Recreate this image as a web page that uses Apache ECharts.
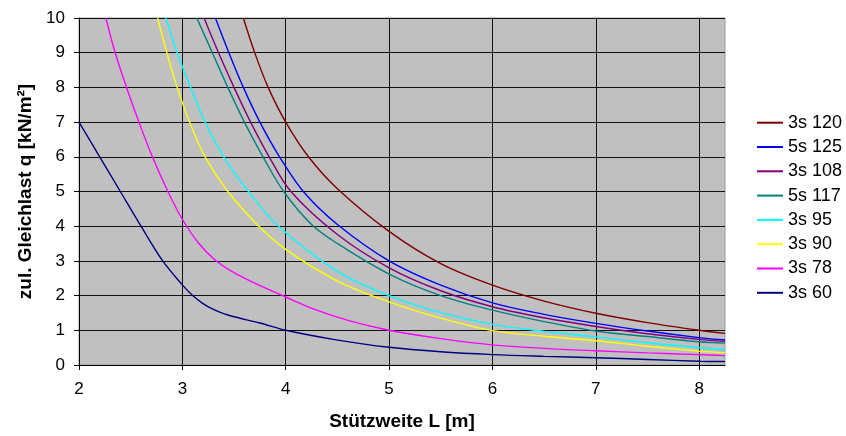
<!DOCTYPE html>
<html>
<head>
<meta charset="utf-8">
<script src="https://cdn.jsdelivr.net/npm/echarts@6/dist/echarts.min.js"></script>
<style>
html,body{margin:0;padding:0;background:#fff;}
#chart{width:846px;height:436px;}
</style>
</head>
<body>
<div id="chart"></div>
<script>
// Series names (legend order)
const seriesNames = ['3s 120', '5s 125', '3s 108', '5s 117', '3s 95', '3s 90', '3s 78', '3s 60'];
const seriesColors = ['#800000', '#0000FF', '#800080', '#008080', '#00FFFF', '#FFFF00', '#FF00FF', '#000080'];

// [Stützweite L (m), zul. Gleichlast q (kN/m²)]
const s3_120 = [[3.59,10],[3.70,9],[3.83,8],[4.0,7],[4.22,6],[4.5,5.08],[5,3.85],[5.5,2.92],[6,2.30],[6.5,1.84],[7,1.49],[7.5,1.22],[8,1.0],[8.25,0.91]];
const s5_125 = [[3.32,10],[3.45,9],[3.59,8],[3.75,7],[3.94,6],[4.17,5],[4.5,4.05],[5,3.0],[5.5,2.3],[6,1.79],[6.5,1.46],[7,1.20],[7.5,0.98],[8,0.79],[8.25,0.72]];
const s3_108 = [[3.21,10],[3.35,9],[3.50,8],[3.66,7],[3.84,6],[4.05,5],[4.5,3.76],[5,2.80],[5.5,2.14],[6,1.68],[6.5,1.36],[7,1.11],[7.5,0.90],[8,0.74],[8.25,0.68]];
const s5_117 = [[3.14,10],[3.29,9],[3.44,8],[3.60,7],[3.78,6],[3.98,5],[4.25,4.05],[4.5,3.5],[5,2.62],[5.5,2.0],[6,1.58],[6.5,1.25],[7,0.98],[7.5,0.82],[8,0.67],[8.25,0.63]];
const s3_95 = [[2.84,10],[2.95,9],[3.08,8],[3.22,7],[3.40,6],[3.64,5],[3.93,4],[4.5,2.70],[5,2.0],[5.5,1.51],[6,1.17],[6.5,0.97],[7,0.81],[7.5,0.64],[8,0.50],[8.25,0.44]];
const s3_90 = [[2.76,10],[2.85,9],[2.95,8],[3.07,7],[3.22,6],[3.44,5],[3.74,4],[4.0,3.33],[4.5,2.42],[5,1.82],[5.5,1.35],[6,0.99],[6.5,0.83],[7,0.70],[7.5,0.54],[8,0.40],[8.25,0.35]];
const s3_78 = [[2.26,10],[2.35,9],[2.46,8],[2.58,7],[2.71,6],[2.86,5],[3.0,4.2],[3.16,3.5],[3.32,3.02],[3.5,2.66],[3.7,2.36],[4.0,1.96],[4.3,1.58],[4.62,1.27],[5,1.0],[5.5,0.76],[6,0.58],[6.5,0.48],[7,0.41],[7.5,0.35],[8,0.30],[8.25,0.27]];
const s3_60 = [[2.0,7.0],[2.2,6],[2.4,5],[2.6,4],[2.81,3],[3.0,2.31],[3.1,2.0],[3.2,1.77],[3.3,1.6],[3.4,1.48],[3.5,1.39],[3.75,1.21],[4,1.0],[4.46,0.74],[5,0.51],[5.5,0.38],[6,0.30],[6.5,0.25],[7,0.21],[7.5,0.16],[8,0.11],[8.25,0.10]];

const seriesData = [s3_120, s5_125, s3_108, s5_117, s3_95, s3_90, s3_78, s3_60];

// Tick values
const xTicks = [2, 3, 4, 5, 6, 7, 8];
const xMin = 2, xMax = 8.25;
const yMin = 0, yMax = 10;

const xTitle = 'Stützweite L [m]';
const yTitle = 'zul. Gleichlast q [kN/m²]';

const FONT = '"Liberation Sans", Arial, sans-serif';

const chart = echarts.init(document.getElementById('chart'), null, {renderer: 'canvas'});
chart.setOption({
  animation: false,
  backgroundColor: '#ffffff',
  grid: {
    left: 79, top: 18, width: 646, height: 350,
    show: true, backgroundColor: '#C0C0C0', borderColor: '#9a9a9a', borderWidth: 1
  },
  legend: {
    orient: 'vertical',
    left: 757, top: 113.7, padding: 0,
    itemWidth: 26, itemHeight: 2, itemGap: 6.3,
    icon: 'rect',
    data: seriesNames,
    textStyle: {fontFamily: FONT, fontSize: 18, color: '#000', lineHeight: 18}
  },
  xAxis: {
    type: 'value', min: xMin, max: xMax, interval: 1,
    name: xTitle, nameLocation: 'middle', nameGap: 47,
    nameTextStyle: {fontFamily: FONT, fontSize: 19, fontWeight: 'bold', color: '#000'},
    axisLine: {show: true, onZero: false, lineStyle: {color: '#000', width: 1}},
    axisTick: {show: true, length: 5, lineStyle: {color: '#000'}, customValues: xTicks},
    axisLabel: {fontFamily: FONT, fontSize: 17, color: '#000', margin: 16, customValues: xTicks},
    splitLine: {show: true, lineStyle: {color: '#111', width: 1}}
  },
  yAxis: {
    type: 'value', min: yMin, max: yMax, interval: 1,
    name: yTitle, nameLocation: 'middle', nameGap: 40, nameRotate: 90,
    nameTextStyle: {fontFamily: FONT, fontSize: 19, fontWeight: 'bold', color: '#000'},
    axisLine: {show: true, onZero: false, lineStyle: {color: '#000', width: 1}},
    axisTick: {show: true, length: 5, lineStyle: {color: '#000'}},
    axisLabel: {fontFamily: FONT, fontSize: 17, color: '#000', margin: 14},
    splitLine: {show: true, lineStyle: {color: '#111', width: 1}}
  },
  series: seriesNames.map((name, i) => ({
    name: name,
    type: 'line',
    data: seriesData[i],
    color: seriesColors[i],
    showSymbol: false,
    symbol: 'none',
    smooth: 0.35,
    clip: true,
    lineStyle: {width: 1.4, color: seriesColors[i]},
    itemStyle: {color: seriesColors[i]}
  }))
});
</script>
</body>
</html>
